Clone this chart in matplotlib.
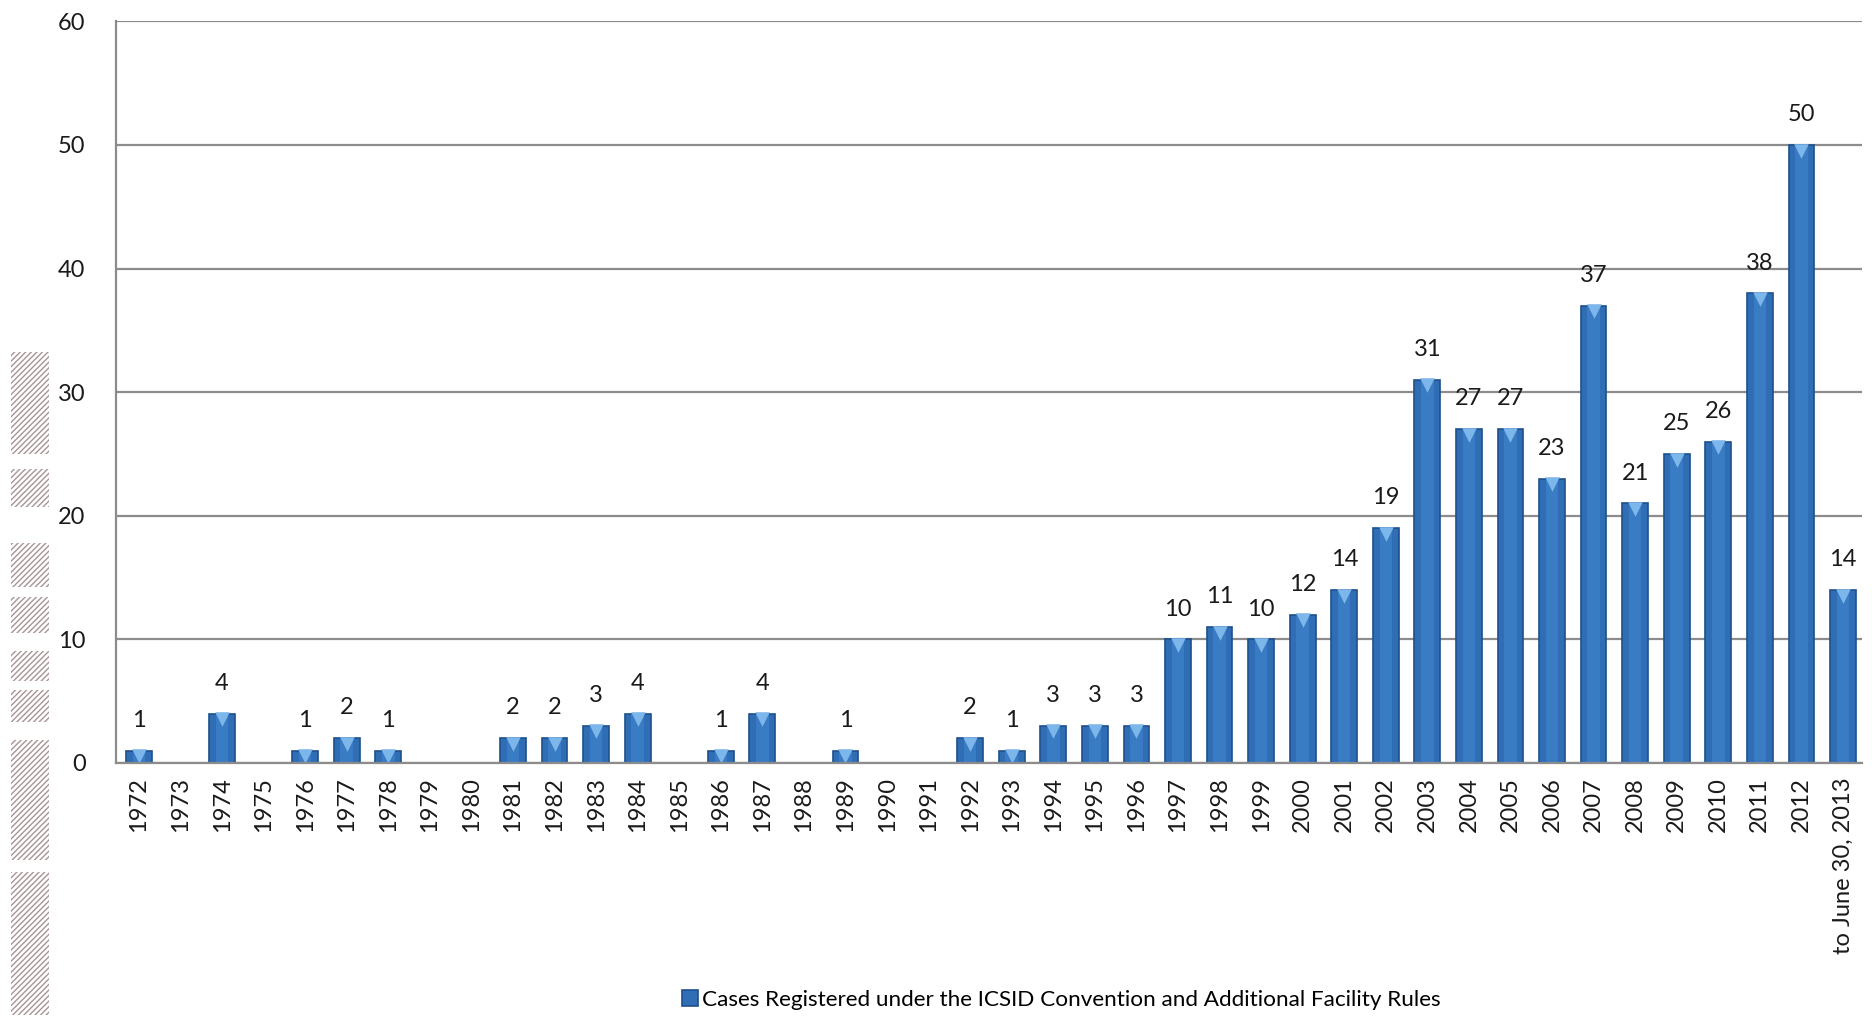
import numpy as np
import matplotlib.pyplot as plt
from matplotlib.patches import Rectangle

years = [str(y) for y in range(1972, 2013)] + ["to June 30, 2013"]
cases = [1, 0, 4, 0, 1, 2, 1, 0, 0, 2, 2, 3, 4, 0, 1, 4, 0, 1, 0, 0,
         2, 1, 3, 3, 3, 10, 11, 10, 12, 14, 19, 31, 27, 27, 23, 37, 21, 25, 26, 38,
         50, 14]
legend_label = "Cases Registered under the ICSID Convention and Additional Facility Rules"
yticks = [0, 10, 20, 30, 40, 50, 60]

plt.rcParams['font.family'] = ['Lato', 'DejaVu Sans']

fig = plt.figure(figsize=(18.72, 10.18), dpi=100)
ax = fig.add_axes([0.062, 0.2505, 0.9327, 0.7285])

x = np.arange(len(years))
bars = ax.bar(x, cases, width=0.62, color='#2F6DB5', edgecolor='#1E4F8C',
              linewidth=1.2, zorder=3, label=legend_label)
# light inner highlight to mimic the gradient fill
ax.bar(x, cases, width=0.3, color='#3A7CC4', linewidth=0, zorder=3.5)
nz = [i for i, v in enumerate(cases) if v > 0]
ax.scatter(x[nz], [cases[i] - 0.45 for i in nz], marker='v', s=110,
           color='#7DB6EA', zorder=4, linewidths=0)

for xi, v in zip(x, cases):
    if v > 0:
        ax.text(xi, v + 1.6, str(v), ha='center', va='bottom', fontsize=17,
                color='#1a1a1a')

ax.set_xlim(-0.55, len(years) - 0.54)
ax.set_ylim(0, 60)
ax.set_yticks(yticks)
ax.set_xticks(x)
ax.set_xticklabels(years, rotation=90, fontsize=17, color='#1a1a1a')
ax.tick_params(axis='y', labelsize=17, labelcolor='#1a1a1a', length=0, pad=22)
ax.tick_params(axis='x', length=0, pad=10)
ax.yaxis.grid(True, color='#8c8c8c', linewidth=1.6, zorder=0)
ax.set_axisbelow(True)
for s in ['top', 'right']:
    ax.spines[s].set_visible(False)
for s in ['left', 'bottom']:
    ax.spines[s].set_color('#8c8c8c')
    ax.spines[s].set_linewidth(1.6)
ax.spines['bottom'].set_zorder(5)

fig.legend(handles=[bars], labels=[legend_label], loc='center',
           bbox_to_anchor=(0.567, 0.0175), frameon=False, fontsize=16.2,
           handlelength=0.7, handleheight=0.7, handletextpad=0.2)

# hatched page decoration on the left edge
segs = [(295, 380), (393, 425), (455, 492), (500, 530), (545, 570),
        (578, 605), (620, 720), (730, 850)]
for top, bot in segs:
    y0 = 1 - bot * 1.194 / 1018
    h = (bot - top) * 1.194 / 1018
    fig.patches.append(Rectangle((0.006, y0), 0.02, h, transform=fig.transFigure,
                                 facecolor='none', edgecolor='#a89494',
                                 hatch='//////', linewidth=0))

fig.savefig('out.png', dpi=100)
